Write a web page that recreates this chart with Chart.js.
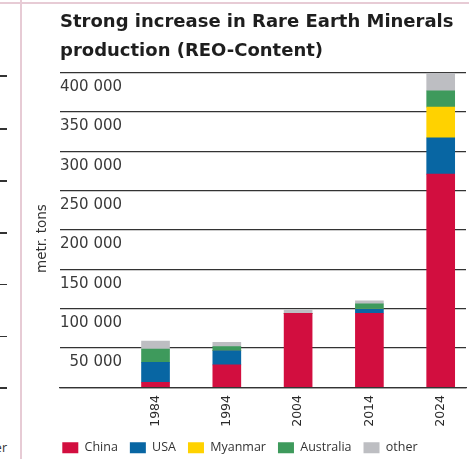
<!DOCTYPE html>
<html>
<head>
<meta charset="utf-8">
<script src="https://cdn.jsdelivr.net/npm/chart.js@4.4.1/dist/chart.umd.min.js"></script>
<style>
html, body { margin: 0; padding: 0; background: #fff; overflow: hidden; width: 469px; height: 459px; }
#wrap { position: relative; width: 469px; height: 459px; overflow: hidden; }
canvas { position: absolute; left: 0; top: 0; }
.pink-v { position: absolute; left: 20px; top: 0; width: 2px; height: 459px; background: #e7cbd5; }
.pink-h { position: absolute; left: 0; top: 2px; width: 469px; height: 1.5px; background: #e7cbd5; }
.tk { position: absolute; left: 0; width: 7px; height: 1.3px; background: #333; }
.frag { position: absolute; left: -60px; width: 67px; top: 439px; line-height: 13px; text-align: right; font: 12.5px 'Open Sans', sans-serif; color: #333; }
</style>
</head>
<body>
<div id="wrap">
  <div class="pink-h"></div>
  <div class="pink-v"></div>
  <div class="tk" style="top:75.4px"></div>
  <div class="tk" style="top:128.4px"></div>
  <div class="tk" style="top:180.4px"></div>
  <div class="tk" style="top:232.4px"></div>
  <div class="tk" style="top:283.6px"></div>
  <div class="tk" style="top:336.2px"></div>
  <div class="tk" style="top:387.4px"></div>
  <div class="frag">other</div>
  <canvas id="c" width="469" height="459"></canvas>
</div>
<script>
// ---- data ----
const years = [1984, 1994, 2004, 2014, 2024];
const china = [6400, 28400, 94100, 94100, 271000];
const usa = [25400, 18200, 0, 5500, 46200];
const myanmar = [0, 0, 0, 0, 39000];
const australia = [16900, 5100, 0, 6400, 20700];
const other = [10200, 5600, 4200, 3800, 22500];
const seriesNames = ['China', 'USA', 'Myanmar', 'Australia', 'other'];
const titleLines = ['Strong increase in Rare Earth Minerals', 'production (REO-Content)'];
const yAxisTitle = 'metr. tons';

// ---- styles ----
const colors = ['#d20e3f', '#0866a3', '#ffd200', '#3e9a5c', '#bdbec2'];
const FONT = "'DejaVu Sans', sans-serif";
const LEGEND_FONT = "'Open Sans', sans-serif";

const series = [china, usa, myanmar, australia, other];
const datasets = series.map((vals, k) => ({
  label: seriesNames[k],
  data: years.map((yr, i) => ({ x: yr, y: vals[i] })),
  backgroundColor: colors[k],
  borderWidth: 0,
  barThickness: 28
}));

// nudge the legend block to sit like the reference
const legendShift = {
  id: 'legendShift',
  afterLayout(chart) {
    const lg = chart.legend;
    if (lg) {
      lg.left -= 9.7; lg.right -= 9.7;
      lg.top -= 4.95; lg.bottom -= 4.95;
    }
  }
};

new Chart(document.getElementById('c'), {
  type: 'bar',
  data: { datasets },
  plugins: [legendShift],
  options: {
    responsive: false,
    animation: false,
    devicePixelRatio: 1,
    layout: { padding: { top: 0, left: 0, right: 3, bottom: -10 } },
    scales: {
      x: {
        type: 'linear',
        stacked: true,
        offset: false,
        min: 1970.6,
        max: 2027.55,
        grid: { display: false, drawTicks: false },
        border: { display: true, color: '#333', width: 1.3, z: 1 },
        afterBuildTicks: (scale) => { scale.ticks = years.map(v => ({ value: v })); },
        ticks: {
          autoSkip: false,
          minRotation: 90,
          maxRotation: 90,
          padding: 7.7,
          color: '#2a2a2a',
          font: { family: FONT, size: 12.5 },
          callback: (v) => String(v)
        }
      },
      y: {
        stacked: true,
        min: 0,
        max: 400000,
        grid: { color: '#333', lineWidth: 1.2, drawTicks: false },
        border: { display: false },
        title: {
          display: true,
          text: yAxisTitle + '\u00a0\u00a0\u00a0\u00a0',
          color: '#333',
          font: { family: FONT, size: 13.5, lineHeight: 1.2 },
          padding: { top: 33.9, bottom: 9.9 }
        },
        ticks: {
          stepSize: 50000,
          mirror: true,
          crossAlign: 'far',
          padding: 0,
          labelOffset: 14.5,
          color: '#3a3a3a',
          font: { family: FONT, size: 15 },
          callback: (v) => v === 0 ? '' : v.toLocaleString('en-US').replace(/,/g, ' ')
        }
      }
    },
    plugins: {
      title: {
        display: true,
        text: titleLines,
        align: 'start',
        fullSize: false,
        color: '#1e1e1e',
        font: { family: FONT, size: 18, weight: 'bold', lineHeight: 1.589 },
        padding: { top: 8.2, bottom: 7.3 }
      },
      legend: {
        position: 'bottom',
        align: 'start',
        fullSize: false,
        labels: {
          boxWidth: 16,
          boxHeight: 11,
          padding: 12,
          color: '#333',
          font: { family: LEGEND_FONT, size: 12.5 }
        }
      },
      tooltip: { enabled: false }
    }
  }
});
</script>
</body>
</html>
